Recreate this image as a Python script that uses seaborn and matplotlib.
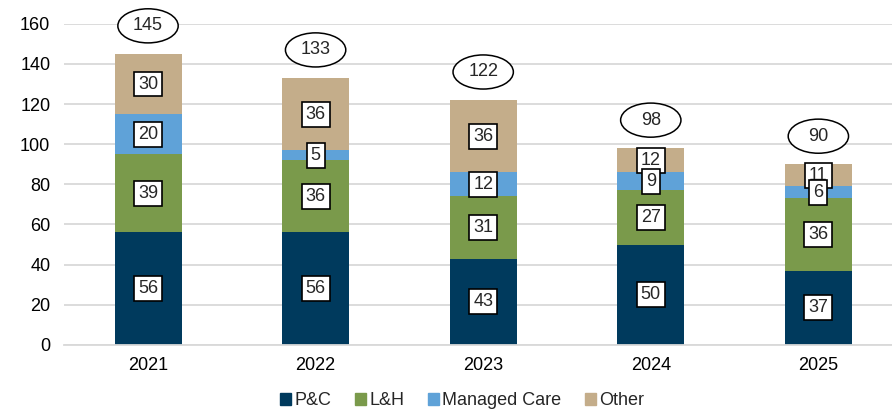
import seaborn as sns
import matplotlib.pyplot as plt
import matplotlib.patches as mpatches
from matplotlib.patches import Ellipse
import pandas as pd
import numpy as np

sns.set_style("white")
plt.rcParams['font.family'] = ['Liberation Sans', 'DejaVu Sans']

# Data
years = ['2021', '2022', '2023', '2024', '2025']
series = ['P&C', 'L&H', 'Managed Care', 'Other']
pc = [56, 56, 43, 50, 37]
lh = [39, 36, 31, 27, 36]
managed_care = [20, 5, 12, 9, 6]
other = [30, 36, 36, 12, 11]
totals = [145, 133, 122, 98, 90]

colors = ['#003A5D', '#7A9A4B', '#5FA2D8', '#C4AD8A']

values = np.array([pc, lh, managed_care, other])
cum = values.cumsum(axis=0)

fig = plt.figure(figsize=(8.92, 4.11), dpi=100)
ax = fig.add_axes([0.072, 0.161, 0.93, 0.781])

# draw cumulative stacks from top to bottom so each layer covers the next
for i in range(len(series) - 1, -1, -1):
    df = pd.DataFrame({'Year': years, 'Value': cum[i]})
    sns.barplot(data=df, x='Year', y='Value', color=colors[i], width=0.4,
                saturation=1, ax=ax, zorder=2, edgecolor='none', linewidth=0)

# segment labels
for j in range(len(years)):
    for i in range(len(series)):
        mid = cum[i, j] - values[i, j] / 2
        ax.text(j, mid, str(values[i, j]), ha='center', va='center', fontsize=13,
                zorder=5 + (len(series) - i) * 0.1,
                bbox=dict(boxstyle='square,pad=0.22', fc='white', ec='black', lw=1.2))
    # total labels in ellipses
    ax.add_patch(Ellipse((j, totals[j] + 14), 0.36, 17, fc='white', ec='black',
                         lw=1.1, zorder=6, clip_on=False))
    ax.text(j, totals[j] + 14, str(totals[j]), ha='center', va='center',
            fontsize=13, zorder=7)

ax.set_ylim(0, 160)
ax.set_xlim(-0.5, 4.45)
ax.set_yticks(range(0, 161, 20))
ax.yaxis.grid(True, color='#D9D9D9', lw=1.3, zorder=0)
ax.set_axisbelow(True)
ax.set_xlabel('')
ax.set_ylabel('')
ax.tick_params(axis='both', labelsize=13, length=0, colors='black')
ax.tick_params(axis='x', pad=9)
ax.tick_params(axis='y', pad=10)
for s in ['top', 'right', 'left']:
    ax.spines[s].set_visible(False)
ax.spines['bottom'].set_color('#D9D9D9')
ax.spines['bottom'].set_linewidth(1.3)

handles = [mpatches.Patch(color=c, label=s) for c, s in zip(colors, series)]
fig.legend(handles=handles, loc='lower center', bbox_to_anchor=(0.518, -0.035),
           ncol=4, frameon=False, fontsize=13, handlelength=0.6,
           handleheight=0.6, handletextpad=0.2, columnspacing=1.3)

plt.savefig('out.png', dpi=100)
plt.close()
